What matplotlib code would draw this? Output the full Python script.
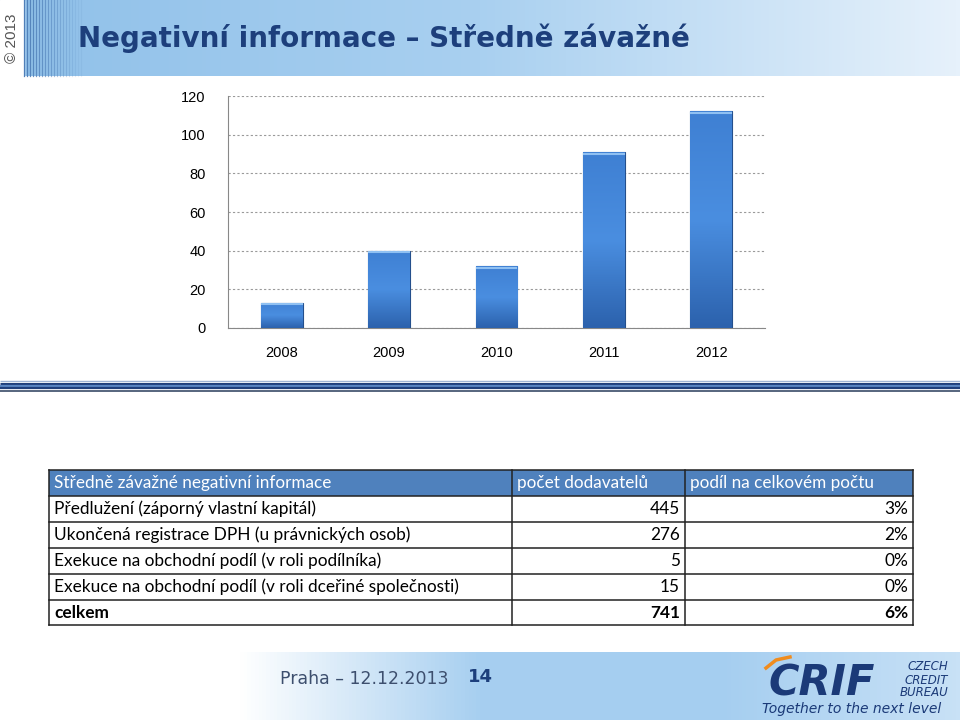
import numpy as np
import matplotlib
matplotlib.use("Agg")
import matplotlib.pyplot as plt
from matplotlib.patches import Rectangle
from matplotlib.colors import LinearSegmentedColormap

years = ["2008", "2009", "2010", "2011", "2012"]
counts = [13, 40, 32, 91, 112]
y_ticks = [0, 20, 40, 60, 80, 100, 120]

title = "Negativní informace – Středně závažné"
table_header = ["Středně závažné negativní informace", "počet dodavatelů", "podíl na celkovém počtu"]
row_labels = [
    "Předlužení (záporný vlastní kapitál)",
    "Ukončená registrace DPH (u právnických osob)",
    "Exekuce na obchodní podíl (v roli podílníka)",
    "Exekuce na obchodní podíl (v roli dceřiné společnosti)",
    "celkem",
]
row_counts = ["445", "276", "5", "15", "741"]
row_shares = ["3%", "2%", "0%", "0%", "6%"]

DARK = "#1d3f7c"
BAR_TOP = "#4a8ee0"
BAR_BOT = "#2c62ad"

fig = plt.figure(figsize=(9.6, 7.2), dpi=100)
bg = fig.add_axes([0, 0, 1, 1], zorder=0)
bg.axis("off")

# header band
head = LinearSegmentedColormap.from_list("head", ["#8fc0e9", "#a9d0f0", "#e6f1fb"])
bg.imshow(np.linspace(0, 1, 256)[None, :], cmap=head, extent=[0, 960, 76, 0], aspect="auto")
bg.add_patch(Rectangle((0, 0), 24, 76, color="white"))
for i, x in enumerate(range(24, 84, 3)):
    bg.plot([x, x], [0, 76], color="#4f7fb8", lw=0.9, alpha=max(0.1, 1 - i / 20))
bg.text(12, 38, "© 2013", rotation=90, ha="center", va="center", fontsize=11,
        color="#555555", family="Liberation Sans")
bg.text(78, 38, title, ha="left", va="center", fontsize=20, fontweight="bold",
        color=DARK, family="DejaVu Sans")

# divider stripes
for y, c, lw in [(381, "#9fb4d4", 1), (383.5, "#1f3f7c", 2.2), (386, "#5a86c3", 1.6),
                 (388, "#1f3f7c", 1.6), (391, "#56657e", 1.4)]:
    bg.plot([0, 960], [y, y], color=c, lw=lw, solid_capstyle="butt")

# footer band
foot = LinearSegmentedColormap.from_list("foot", ["#ffffff", "#ffffff", "#a7cff0", "#a5cef0", "#c8e1f6"])
bg.imshow(np.linspace(0, 1, 256)[None, :], cmap=foot, extent=[0, 960, 720, 652], aspect="auto")
bg.text(280, 679, "Praha – 12.12.2013", ha="left", va="center", fontsize=12.5,
        color="#3d4f6e", family="DejaVu Sans")
bg.text(468, 677, "14", ha="left", va="center", fontsize=13, fontweight="bold",
        color=DARK, family="DejaVu Sans")

# logo
bg.text(768, 683, "CRIF", ha="left", va="center", fontsize=30, fontweight="bold",
        style="italic", color="#1b3a78", family="DejaVu Sans")
bg.plot([766, 776, 790], [668, 660, 657], color="#f08c1e", lw=2.5)
for y, word in [(667, "CZECH"), (680, "CREDIT"), (693, "BUREAU")]:
    bg.text(948, y, word, ha="right", va="center", fontsize=8.5, style="italic",
            color="#1b3a78", family="DejaVu Sans")
bg.text(762, 709, "Together to the next level", ha="left", va="center", fontsize=10,
        style="italic", color="#1b3a78", family="DejaVu Sans")

# table
col_x = [49, 512, 685, 913]
row_y = [470, 496, 522, 548, 574, 600, 625]
bg.add_patch(Rectangle((col_x[0], row_y[0]), col_x[-1] - col_x[0], row_y[1] - row_y[0],
                       facecolor="#4f81bd", edgecolor="none"))
for y in row_y:
    bg.plot([col_x[0], col_x[-1]], [y, y], color="#222222", lw=1.1)
for x in col_x:
    bg.plot([x, x], [row_y[0], row_y[-1]], color="#222222", lw=1.1)
tf = "Lato"
for j, h in enumerate(table_header):
    bg.text(col_x[j] + 5, (row_y[0] + row_y[1]) / 2, h, ha="left", va="center",
            fontsize=12.3, color="white", family=tf)
for i in range(len(row_labels)):
    yc = (row_y[i + 1] + row_y[i + 2]) / 2
    w = "bold" if i == len(row_labels) - 1 else "normal"
    bg.text(col_x[0] + 5, yc, row_labels[i], ha="left", va="center", fontsize=12.4,
            color="black", family=tf, fontweight=w)
    bg.text(col_x[2] - 5, yc, row_counts[i], ha="right", va="center", fontsize=12.4,
            color="black", family=tf, fontweight=w)
    bg.text(col_x[3] - 5, yc, row_shares[i], ha="right", va="center", fontsize=12.4,
            color="black", family=tf, fontweight=w)

bg.set_xlim(0, 960)
bg.set_ylim(720, 0)

# bar chart
ax = fig.add_axes([228 / 960, 1 - 328 / 720, 537 / 960, 232 / 720], zorder=1)
ax.set_facecolor("none")
x = np.arange(len(years))
bars = ax.bar(x, counts, width=0.39, color=BAR_BOT, edgecolor="#244f8c", linewidth=0.8, zorder=3)
grad = LinearSegmentedColormap.from_list("bar", [BAR_BOT, BAR_TOP, "#3f80d3"])
for b in bars:
    im = ax.imshow(np.linspace(0, 1, 100)[:, None], cmap=grad, origin="lower", aspect="auto",
                   extent=[b.get_x(), b.get_x() + b.get_width(), 0, b.get_height()], zorder=3)
    im.set_clip_path(b)
    ax.plot([b.get_x() + 0.01, b.get_x() + b.get_width() - 0.01],
            [b.get_height() - 0.8] * 2, color="#8fc0f2", lw=1.5, zorder=4)
ax.set_xlim(-0.5, len(years) - 0.5)
ax.set_ylim(0, 120)
ax.set_yticks(y_ticks)
ax.set_xticks(x)
ax.set_xticklabels(years)
ax.grid(axis="y", linestyle=(0, (2, 2)), color="#9a9a9a", lw=0.8, zorder=0)
for s in ["top", "right"]:
    ax.spines[s].set_visible(False)
ax.spines["left"].set_color("#888888")
ax.spines["bottom"].set_color("#888888")
ax.tick_params(length=0, labelsize=10.5, pad=16)
ax.tick_params(axis="x", pad=13)
for lab in ax.get_xticklabels() + ax.get_yticklabels():
    lab.set_family("Liberation Sans")

fig.savefig("out.png", dpi=100)
